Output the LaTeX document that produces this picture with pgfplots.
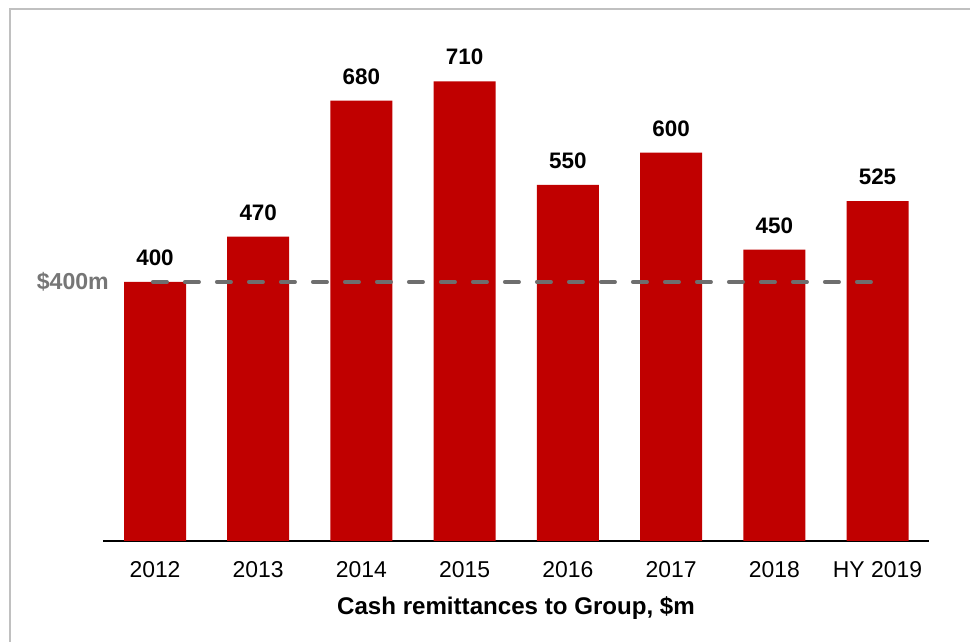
\documentclass[border=0pt]{standalone}
\usepackage{pgfplots}
\pgfplotsset{compat=1.18}
\usepackage{fontspec}
\setmainfont{Liberation Sans}
\definecolor{barred}{HTML}{C00000}
\definecolor{dashgray}{HTML}{6E6E6E}
\definecolor{labgray}{HTML}{767676}
\definecolor{framegray}{HTML}{C0C0C0}
\begin{document}
\begin{tikzpicture}
\useasboundingbox (0,0) rectangle (970bp,642bp);
\fill[white] (0,0) rectangle (970bp,642bp);
\draw[framegray, line width=2.2bp] (10bp,-2bp) -- (10bp,633bp) -- (972bp,633bp);
\begin{axis}[
  at={(103.4bp,101bp)}, anchor=south west,
  scale only axis, width=825.7bp, height=518bp,
  xmin=-0.5, xmax=7.5, ymin=0, ymax=800,
  axis x line=bottom, axis y line=none,
  x axis line style={black, line width=2.4bp, -},
  xtick={0,1,2,3,4,5,6,7},
  xticklabels={2012,2013,2014,2015,2016,2017,2018,HY 2019},
  xtick style={draw=none},
  xticklabel style={font=\fontsize{23}{27}\selectfont, anchor=base, yshift=-32bp, inner sep=0pt},
  ybar, bar width=62bp,
  /pgf/number format/assume math mode=true,
  nodes near coords,
  nodes near coords style={font=\fontsize{22.5}{26}\selectfont\bfseries, black, anchor=base, yshift=16.5bp, inner sep=0pt},
  clip=false,
]
\addplot[fill=barred, draw=none] coordinates {
(0,400) (1,470) (2,680) (3,710) (4,550) (5,600) (6,450) (7,525)};
\end{axis}
\begin{axis}[
  at={(103.4bp,101bp)}, anchor=south west,
  scale only axis, width=825.7bp, height=518bp,
  xmin=-0.5, xmax=7.5, ymin=0, ymax=800,
  hide axis, clip=false,
]
\addplot[dashgray, line width=4bp, line cap=round, dash pattern=on 14bp off 18bp] coordinates {(-0.02,400) (7.02,400)};
\end{axis}
\node[anchor=base east, inner sep=0pt, text=labgray, font=\fontsize{23.2}{27}\selectfont\bfseries] at (109bp,352bp) {\$400m};
\node[anchor=base, inner sep=0pt, font=\fontsize{24.2}{28}\selectfont\bfseries] at (516bp,28bp) {Cash remittances to Group, \$m};
\end{tikzpicture}
\end{document}
